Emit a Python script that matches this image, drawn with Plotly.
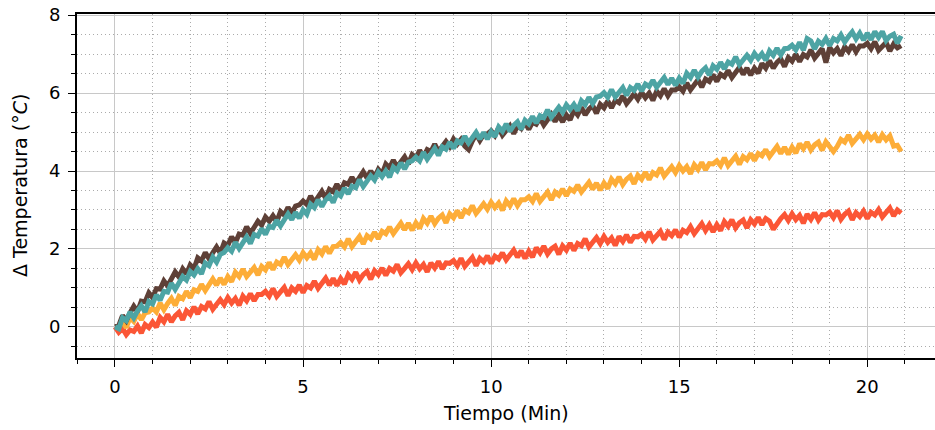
import plotly.graph_objects as go

# Temperature rise (°C) logged every 0.1 min for four samples
SAMPLE_STEP_MIN = 0.1

DELTA_MARRON = [
    0.00, 0.03, 0.29, 0.16, 0.36, 0.53, 0.39, 0.66, 0.64, 0.87,
    0.75, 0.98, 0.97, 1.18, 1.05, 1.24, 1.41, 1.28, 1.49, 1.36,
    1.59, 1.49, 1.77, 1.69, 1.91, 1.75, 1.93, 2.05, 1.89, 2.15,
    2.09, 2.31, 2.16, 2.38, 2.35, 2.57, 2.40, 2.56, 2.71, 2.61,
    2.82, 2.71, 2.85, 2.70, 2.96, 2.87, 3.07, 2.92, 3.10, 3.13,
    3.23, 3.14, 3.36, 3.19, 3.35, 3.48, 3.30, 3.53, 3.47, 3.66,
    3.50, 3.70, 3.66, 3.84, 3.68, 3.84, 3.98, 3.82, 4.00, 3.84,
    4.04, 3.92, 4.18, 4.08, 4.28, 4.10, 4.26, 4.36, 4.18, 4.42,
    4.34, 4.53, 4.36, 4.55, 4.50, 4.69, 4.50, 4.63, 4.76, 4.63,
    4.82, 4.69, 4.81, 4.64, 4.55, 4.77, 4.95, 4.78, 4.94, 4.95,
    5.03, 4.91, 5.11, 4.92, 5.06, 5.16, 4.96, 5.16, 5.09, 5.25,
    5.07, 5.25, 5.20, 5.36, 5.18, 5.33, 5.45, 5.27, 5.43, 5.26,
    5.44, 5.31, 5.56, 5.44, 5.63, 5.44, 5.59, 5.68, 5.48, 5.71,
    5.62, 5.80, 5.62, 5.81, 5.75, 5.93, 5.73, 5.85, 5.98, 5.84,
    6.02, 5.88, 6.00, 5.81, 6.05, 5.93, 6.11, 5.93, 6.08, 6.08,
    6.16, 6.05, 6.26, 6.08, 6.23, 6.34, 6.15, 6.36, 6.30, 6.47,
    6.30, 6.48, 6.42, 6.58, 6.40, 6.54, 6.66, 6.48, 6.64, 6.46,
    6.64, 6.51, 6.76, 6.64, 6.83, 6.64, 6.79, 6.88, 6.68, 6.91,
    6.82, 7.00, 6.81, 6.99, 6.93, 7.11, 6.90, 7.02, 7.14, 6.78,
    7.17, 7.03, 7.14, 6.96, 7.19, 7.07, 7.24, 7.06, 7.21, 7.21,
    7.28, 7.14, 7.32, 7.10, 7.22, 7.30, 7.08, 7.26, 7.16, 7.22,
]

DELTA_TURQUESA = [
    0.00, -0.05, 0.23, 0.16, 0.38, 0.23, 0.41, 0.54, 0.38, 0.65,
    0.59, 0.82, 0.68, 0.91, 0.89, 1.12, 0.96, 1.13, 1.29, 1.20,
    1.42, 1.33, 1.49, 1.36, 1.64, 1.57, 1.79, 1.66, 1.86, 1.91,
    2.03, 1.94, 2.17, 2.01, 2.18, 2.31, 2.14, 2.37, 2.33, 2.52,
    2.37, 2.58, 2.55, 2.74, 2.59, 2.76, 2.90, 2.75, 2.94, 2.79,
    3.00, 2.89, 3.15, 3.06, 3.26, 3.09, 3.26, 3.36, 3.19, 3.43,
    3.36, 3.56, 3.41, 3.61, 3.57, 3.78, 3.60, 3.74, 3.88, 3.77,
    3.97, 3.85, 4.00, 3.84, 4.10, 4.01, 4.21, 4.05, 4.23, 4.26,
    4.36, 4.26, 4.48, 4.30, 4.46, 4.58, 4.40, 4.62, 4.56, 4.74,
    4.58, 4.77, 4.72, 4.89, 4.72, 4.87, 4.99, 4.82, 4.99, 4.82,
    5.01, 4.88, 5.13, 5.02, 5.21, 5.02, 5.17, 5.26, 5.07, 5.30,
    5.21, 5.40, 5.23, 5.42, 5.37, 5.57, 5.38, 5.51, 5.64, 5.51,
    5.70, 5.58, 5.71, 5.55, 5.80, 5.70, 5.89, 5.73, 5.90, 5.92,
    6.01, 5.89, 6.09, 5.90, 6.04, 6.14, 5.94, 6.14, 6.07, 6.23,
    6.05, 6.23, 6.17, 6.33, 6.15, 6.29, 6.40, 6.22, 6.38, 6.20,
    6.38, 6.25, 6.51, 6.40, 6.59, 6.41, 6.56, 6.65, 6.46, 6.70,
    6.61, 6.79, 6.62, 6.80, 6.74, 6.93, 6.73, 6.85, 6.97, 6.84,
    7.02, 6.89, 7.01, 6.84, 7.08, 6.97, 7.15, 6.98, 7.14, 7.15,
    7.23, 7.11, 7.30, 7.10, 7.40, 7.34, 7.13, 7.33, 7.25, 7.40,
    7.22, 7.40, 7.34, 7.49, 7.31, 7.45, 7.57, 7.39, 7.54, 7.36,
    7.54, 7.37, 7.58, 7.43, 7.58, 7.35, 7.46, 7.51, 7.28, 7.47,
]

DELTA_NARANJA = [
    0.00, 0.00, 0.14, -0.02, 0.24, 0.14, 0.34, 0.18, 0.36, 0.38,
    0.48, 0.38, 0.61, 0.44, 0.60, 0.73, 0.55, 0.78, 0.72, 0.91,
    0.75, 0.95, 0.91, 1.09, 0.93, 1.09, 1.23, 1.07, 1.25, 1.09,
    1.29, 1.16, 1.40, 1.29, 1.48, 1.29, 1.43, 1.52, 1.33, 1.55,
    1.46, 1.65, 1.47, 1.66, 1.60, 1.79, 1.60, 1.72, 1.85, 1.71,
    1.90, 1.77, 1.90, 1.73, 1.98, 1.87, 2.06, 1.89, 2.06, 2.07,
    2.16, 2.05, 2.26, 2.06, 2.21, 2.32, 2.13, 2.34, 2.26, 2.43,
    2.26, 2.45, 2.39, 2.56, 2.39, 2.54, 2.66, 2.49, 2.66, 2.48,
    2.67, 2.53, 2.78, 2.66, 2.84, 2.65, 2.79, 2.87, 2.67, 2.90,
    2.80, 2.98, 2.80, 2.99, 2.93, 3.11, 2.91, 3.03, 3.16, 3.02,
    3.20, 3.06, 3.18, 2.99, 3.23, 3.11, 3.29, 3.11, 3.26, 3.26,
    3.34, 3.22, 3.42, 3.22, 3.36, 3.46, 3.26, 3.46, 3.38, 3.54,
    3.36, 3.54, 3.48, 3.64, 3.46, 3.60, 3.71, 3.53, 3.69, 3.51,
    3.69, 3.55, 3.79, 3.67, 3.85, 3.65, 3.79, 3.87, 3.67, 3.89,
    3.79, 3.97, 3.78, 3.96, 3.90, 4.08, 3.87, 3.99, 4.11, 3.96,
    4.14, 4.00, 4.11, 3.93, 4.16, 4.04, 4.22, 4.03, 4.19, 4.18,
    4.26, 4.14, 4.34, 4.14, 4.28, 4.38, 4.17, 4.37, 4.29, 4.45,
    4.27, 4.45, 4.39, 4.55, 4.37, 4.51, 4.63, 4.45, 4.61, 4.43,
    4.61, 4.46, 4.70, 4.57, 4.74, 4.54, 4.67, 4.74, 4.53, 4.75,
    4.64, 4.50, 4.63, 4.81, 4.74, 4.92, 4.71, 4.83, 4.94, 4.80,
    4.95, 4.82, 4.92, 4.74, 4.93, 4.80, 4.90, 4.64, 4.66, 4.50,
]

DELTA_ROJO = [
    0.00, -0.14, -0.04, -0.20, -0.08, -0.12, 0.02, -0.16, 0.06, -0.02,
    0.12, -0.01, 0.24, 0.13, 0.32, 0.13, 0.28, 0.37, 0.18, 0.41,
    0.32, 0.51, 0.33, 0.52, 0.46, 0.65, 0.45, 0.58, 0.70, 0.57,
    0.75, 0.61, 0.73, 0.55, 0.79, 0.67, 0.85, 0.67, 0.83, 0.83,
    0.91, 0.79, 0.98, 0.78, 0.91, 1.01, 0.80, 1.00, 0.91, 1.07,
    0.88, 1.06, 1.00, 1.17, 0.99, 1.13, 1.25, 1.07, 1.24, 1.06,
    1.24, 1.10, 1.34, 1.22, 1.40, 1.20, 1.34, 1.42, 1.22, 1.44,
    1.34, 1.51, 1.32, 1.50, 1.43, 1.60, 1.39, 1.50, 1.62, 1.47,
    1.64, 1.49, 1.60, 1.41, 1.64, 1.51, 1.68, 1.49, 1.64, 1.63,
    1.70, 1.57, 1.76, 1.55, 1.68, 1.78, 1.57, 1.76, 1.67, 1.82,
    1.63, 1.81, 1.74, 1.90, 1.72, 1.86, 1.97, 1.79, 1.95, 1.76,
    1.94, 1.79, 2.03, 1.90, 2.07, 1.87, 2.00, 2.07, 1.86, 2.08,
    1.97, 2.15, 1.96, 2.14, 2.08, 2.26, 2.05, 2.17, 2.29, 2.14,
    2.32, 2.17, 2.28, 2.09, 2.32, 2.19, 2.36, 2.17, 2.32, 2.31,
    2.38, 2.25, 2.44, 2.23, 2.36, 2.45, 2.24, 2.43, 2.34, 2.49,
    2.30, 2.48, 2.42, 2.57, 2.39, 2.53, 2.65, 2.47, 2.62, 2.44,
    2.62, 2.47, 2.70, 2.58, 2.75, 2.54, 2.67, 2.74, 2.54, 2.75,
    2.64, 2.81, 2.62, 2.78, 2.71, 2.50, 2.67, 2.78, 2.88, 2.73,
    2.90, 2.75, 2.86, 2.66, 2.89, 2.76, 2.93, 2.74, 2.88, 2.87,
    2.94, 2.80, 2.98, 2.76, 2.89, 2.97, 2.75, 2.93, 2.83, 2.97,
    2.78, 2.94, 2.87, 3.01, 2.82, 2.95, 3.05, 2.85, 3.00, 2.92,
]

TIEMPO_MIN = [round(i * SAMPLE_STEP_MIN, 1) for i in range(len(DELTA_MARRON))]

X_TICKS = [0, 5, 10, 15, 20]
Y_TICKS = [0, 2, 4, 6, 8]

SERIES = [
    ("rojo", DELTA_ROJO, "#FB5636"),
    ("naranja", DELTA_NARANJA, "#FDAD38"),
    ("marron", DELTA_MARRON, "#5E4037"),
    ("turquesa", DELTA_TURQUESA, "#4DA4A4"),
]

FONT = "DejaVu Sans"

fig = go.Figure()
for name, values, color in SERIES:
    fig.add_trace(go.Scatter(
        x=TIEMPO_MIN, y=values, mode="lines", name=name,
        line=dict(color=color, width=5), showlegend=False,
    ))

axis_common = dict(
    showline=True, linecolor="black", linewidth=1.8,
    ticks="outside", ticklen=7, tickwidth=1.3, tickcolor="black",
    showgrid=True, gridcolor="#c8c8c8", gridwidth=1.3,
    zeroline=False, tickfont=dict(family=FONT, size=18, color="black"),
    ticklabelstandoff=4,
)
minor_common = dict(
    ticks="outside", ticklen=4, tickcolor="black", tickwidth=1,
    showgrid=True, gridcolor="#ababab", griddash="1px,3px", gridwidth=1,
)

fig.update_xaxes(
    **axis_common, range=[-1.01, 21.8], tickvals=X_TICKS, mirror=True,
    minor=dict(dtick=1, tick0=0, **minor_common),
)
fig.update_yaxes(
    **axis_common, range=[-0.8, 8.03], tickvals=Y_TICKS,
    minor=dict(dtick=0.5, tick0=0, **minor_common),
)

fig.add_annotation(
    text="Tiempo (Min)", xref="paper", yref="paper", x=0.5, y=-0.16,
    xanchor="center", yanchor="middle", showarrow=False,
    font=dict(family=FONT, size=19, color="black"),
)
fig.add_annotation(
    text="Δ Temperatura (°<i>C</i>)", xref="paper", yref="paper",
    x=-0.0664, y=0.5, xanchor="center", yanchor="middle", textangle=-90,
    showarrow=False, font=dict(family=FONT, size=19, color="black"),
)

fig.update_layout(
    width=935, height=430,
    margin=dict(l=77, r=0, t=14, b=72),
    plot_bgcolor="white", paper_bgcolor="white",
)

fig.write_html("out.html")
